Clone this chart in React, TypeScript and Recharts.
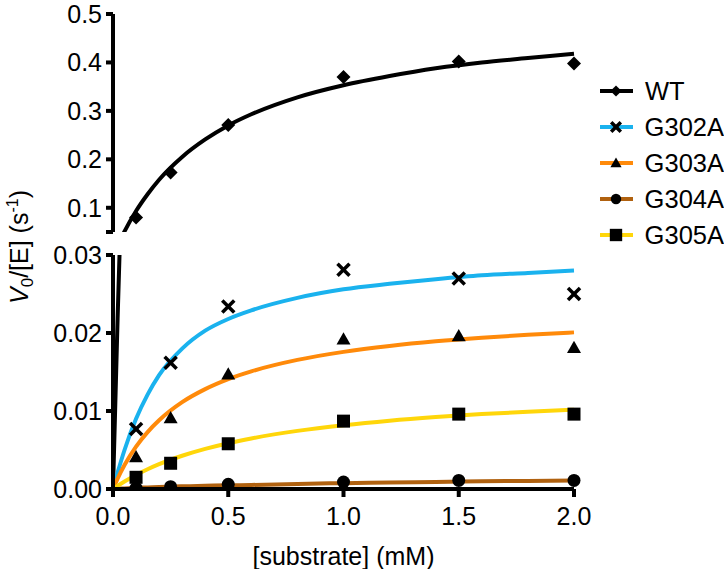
import React from 'react';
import { ComposedChart, Line, XAxis, YAxis, Legend } from 'recharts';

// measured points
const substrate = [0.1, 0.25, 0.5, 1.0, 1.5, 2.0];
const wtObs = [0.08, 0.173, 0.271, 0.37, 0.402, 0.398];
const g302aObs = [0.0077, 0.0162, 0.0234, 0.0281, 0.027, 0.025];
const g303aObs = [0.0041, 0.0091, 0.0147, 0.0192, 0.0196, 0.0181];
const g304aObs = [0.0001, 0.0003, 0.0006, 0.0009, 0.0011, 0.0011];
const g305aObs = [0.0015, 0.0033, 0.0058, 0.0087, 0.0096, 0.0096];

// fitted curves
const fitX = [0, 0.02, 0.05, 0.1, 0.15, 0.2, 0.3, 0.4, 0.5, 0.6, 0.8, 1.0, 1.2, 1.4, 1.6, 1.8, 2.0];
const wtFit = [0, 0.0219, 0.0514, 0.0934, 0.128, 0.158, 0.205, 0.241, 0.27, 0.293, 0.328, 0.353, 0.372, 0.388, 0.4, 0.409, 0.418];
const g302aFit = [0, 0.0021, 0.005, 0.009, 0.0121, 0.0146, 0.018, 0.0203, 0.0218, 0.0229, 0.0245, 0.0256, 0.0263, 0.0269, 0.0274, 0.0277, 0.028];
const g303aFit = [0, 0.00133, 0.00307, 0.00543, 0.0073, 0.00881, 0.01113, 0.0128, 0.01408, 0.01508, 0.01655, 0.01758, 0.01834, 0.01893, 0.01939, 0.01977, 0.02008];
const g304aFit = [0, 0.00003, 0.00008, 0.00015, 0.0002, 0.00026, 0.00034, 0.00041, 0.00047, 0.00052, 0.00065, 0.00075, 0.00083, 0.00091, 0.00098, 0.00104, 0.0011];
const g305aFit = [0, 0.0004, 0.00096, 0.0018, 0.00253, 0.00318, 0.00426, 0.00514, 0.00587, 0.00648, 0.00745, 0.00818, 0.00876, 0.00922, 0.0096, 0.00991, 0.01017];

const xTicks = [0, 0.5, 1.0, 1.5, 2.0];
const topTicks = [0.05, 0.1, 0.2, 0.3, 0.4, 0.5];
const bottomTicks = [0, 0.01, 0.02, 0.03];

type Shape = 'diamond' | 'x' | 'triangle' | 'circle' | 'square';

const series: { name: string; color: string; shape: Shape }[] = [
  { name: 'WT', color: '#000000', shape: 'diamond' },
  { name: 'G302A', color: '#1AB2EE', shape: 'x' },
  { name: 'G303A', color: '#FF8A0A', shape: 'triangle' },
  { name: 'G304A', color: '#B0610F', shape: 'circle' },
  { name: 'G305A', color: '#FFD60A', shape: 'square' },
];

const toPts = (xs: number[], ys: number[]) => xs.map((x, i) => ({ x, y: ys[i] }));

const FONT = "'Liberation Sans', Arial, sans-serif";
const FS = 25;
const axisStyle = { stroke: '#000', strokeWidth: 4 };
const tickStyle = { fill: '#000', fontSize: FS };

const Marker = ({ cx, cy, shape, s = 1 }: { cx: number; cy: number; shape: Shape; s?: number }) => {
  if (shape === 'diamond') {
    const r = 7 * s;
    return <polygon points={`${cx},${cy - r} ${cx + r},${cy} ${cx},${cy + r} ${cx - r},${cy}`} fill="#000" />;
  }
  if (shape === 'x') {
    const r = 6 * s;
    return (
      <g stroke="#000" strokeWidth={3.5}>
        <line x1={cx - r} y1={cy - r} x2={cx + r} y2={cy + r} />
        <line x1={cx - r} y1={cy + r} x2={cx + r} y2={cy - r} />
      </g>
    );
  }
  if (shape === 'triangle') {
    const r = 7 * s;
    return <polygon points={`${cx},${cy - r} ${cx + r},${cy + r * 0.75} ${cx - r},${cy + r * 0.75}`} fill="#000" />;
  }
  if (shape === 'circle') return <circle cx={cx} cy={cy} r={6.5 * s} fill="#000" />;
  const h = 6.5 * s;
  return <rect x={cx - h} y={cy - h} width={h * 2} height={h * 2} fill="#000" />;
};

const dotFor = (shape: Shape) => (p: any) => (
  <Marker key={`m-${shape}-${p.index}`} cx={p.cx} cy={p.cy} shape={shape} />
);

const LegendBox = () => (
  <div style={{ fontFamily: FONT }}>
    {series.map((s) => (
      <div key={s.name} style={{ height: 36, display: 'flex', alignItems: 'center' }}>
        <svg width={36} height={20}>
          <line x1={2} y1={10} x2={35} y2={10} stroke={s.color} strokeWidth={4} />
          <Marker cx={18} cy={10} shape={s.shape} s={s.shape === 'square' ? 0.95 : 0.8} />
        </svg>
        <span style={{ marginLeft: 11, fontSize: FS + 0.5, color: '#000' }}>{s.name}</span>
      </div>
    ))}
  </div>
);

const fits = [wtFit, g302aFit, g303aFit, g304aFit, g305aFit];
const obs = [wtObs, g302aObs, g303aObs, g304aObs, g305aObs];

export default function App() {
  return (
    <div style={{ position: 'absolute', left: 0, top: 0, width: 724, height: 569, fontFamily: FONT, background: '#fff' }}>
      <div style={{ position: 'absolute', left: 0, top: 0 }}>
        <ComposedChart width={724} height={242} margin={{ top: 14, right: 150, bottom: 10, left: 0 }}>
          <XAxis type="number" dataKey="x" domain={[0, 2]} ticks={xTicks} hide />
          <YAxis
            type="number"
            width={113}
            domain={[0.05, 0.5]}
            ticks={topTicks}
            interval={0}
            allowDataOverflow
            axisLine={axisStyle}
            tickLine={axisStyle}
            tickSize={7}
            tickMargin={4}
            tick={tickStyle}
            tickFormatter={(v: number) => (v === 0.05 ? '' : v.toFixed(1))}
          />
          <Line data={toPts(fitX, wtFit)} dataKey="y" type="monotone" stroke="#000" strokeWidth={4} dot={false} activeDot={false} isAnimationActive={false} />
          <Line data={toPts(substrate, wtObs)} dataKey="y" stroke="none" dot={dotFor('diamond')} activeDot={false} isAnimationActive={false} />
          <Legend layout="vertical" align="center" verticalAlign="middle" wrapperStyle={{ left: 598, top: 73, width: 126 }} content={() => <LegendBox />} />
        </ComposedChart>
      </div>
      <div style={{ position: 'absolute', left: 0, top: 238 }}>
        <ComposedChart width={724} height={331} margin={{ top: 17, right: 150, bottom: 0, left: 0 }}>
          <XAxis
            type="number"
            dataKey="x"
            domain={[0, 2]}
            ticks={xTicks}
            interval={0}
            height={80}
            axisLine={axisStyle}
            tickLine={axisStyle}
            tickSize={8}
            tickMargin={10}
            tick={tickStyle}
            tickFormatter={(v: number) => v.toFixed(1)}
            label={{ value: '[substrate] (mM)', position: 'insideBottom', offset: 4, fill: '#000', fontSize: FS }}
          />
          <YAxis
            type="number"
            width={113}
            domain={[0, 0.03]}
            ticks={bottomTicks}
            interval={0}
            allowDataOverflow
            axisLine={axisStyle}
            tickLine={axisStyle}
            tickSize={7}
            tickMargin={4}
            tick={tickStyle}
            tickFormatter={(v: number) => v.toFixed(2)}
          />
          {series.map((s, i) => (
            <Line key={`fit-${s.name}`} data={toPts(fitX, fits[i])} dataKey="y" type="monotone" stroke={s.color} strokeWidth={4} dot={false} activeDot={false} isAnimationActive={false} />
          ))}
          {series.slice(1).map((s, i) => (
            <Line key={`obs-${s.name}`} data={toPts(substrate, obs[i + 1])} dataKey="y" stroke="none" dot={dotFor(s.shape)} activeDot={false} isAnimationActive={false} />
          ))}
        </ComposedChart>
      </div>
      <svg width={60} height={569} style={{ position: 'absolute', left: 0, top: 0 }}>
        <text x={28} y={247} transform="rotate(-90 28 247)" textAnchor="middle" fontSize={FS} fill="#000" fontFamily={FONT}>
          <tspan fontStyle="italic">V</tspan>
          <tspan fontSize={17} dy={5}>0</tspan>
          <tspan dy={-5}>/[E] (s</tspan>
          <tspan fontSize={16} dy={-10}>-1</tspan>
          <tspan dy={10}>)</tspan>
        </text>
      </svg>
    </div>
  );
}
